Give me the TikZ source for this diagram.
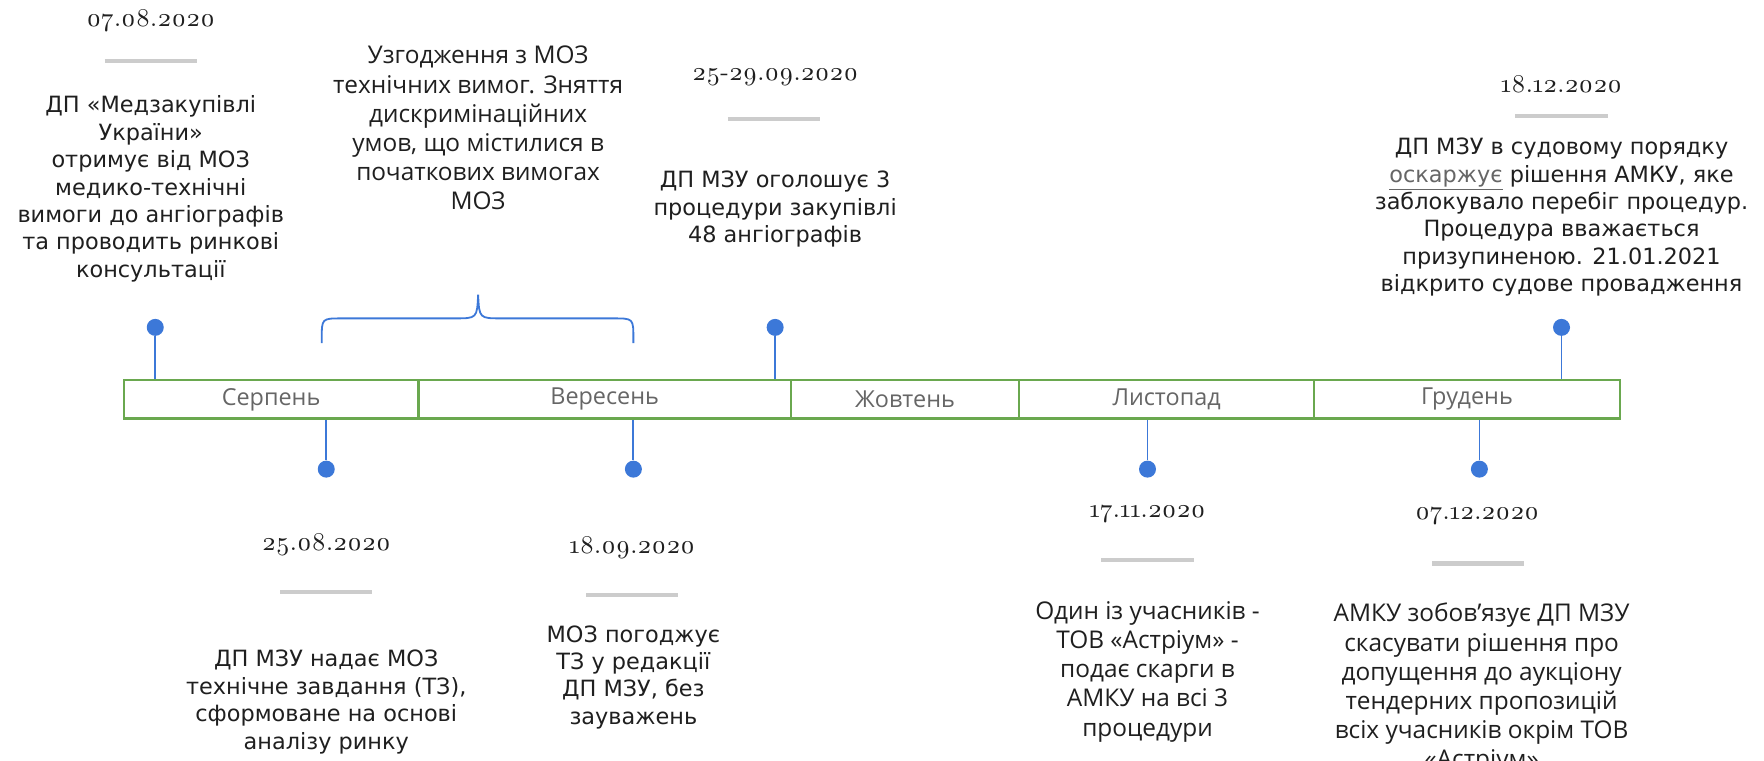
\documentclass[tikz,border=0pt]{standalone}
\usepackage{fontspec}
\newfontfamily\descfont{DejaVu Sans}
\newfontfamily\narrowfont{Open Sans}
\newfontfamily\datefont{lmroman10-regular.otf}[Numbers=OldStyle]
\definecolor{pinblue}{HTML}{3C78D8}
\definecolor{bargreen}{HTML}{6AA84F}
\definecolor{monthgray}{HTML}{666666}
\definecolor{rulegray}{HTML}{CCCCCC}
\definecolor{inkdark}{HTML}{1F1F1F}
\tikzset{month/.style={draw=bargreen, line width=1.1pt, fill=white, minimum height=34*0.5625pt, inner sep=0pt, text=monthgray, font=\narrowfont\fontsize{11.7}{13}\selectfont}}
\tikzset{pin/.style={draw=pinblue, line width=0.9pt}}
\tikzset{dot/.style={circle, fill=pinblue, minimum size=8.5pt, inner sep=0pt}}
\tikzset{datetxt/.style={text=inkdark, font=\datefont\fontsize{12.8}{15}\selectfont}}
\tikzset{datebar/.style={draw=rulegray, line width=2.2pt}}
\tikzset{desc/.style={align=center, text=inkdark, font=\descfont\fontsize{11.2}{13.7}\selectfont}}
\tikzset{descn/.style={align=center, text=inkdark, font=\narrowfont\fontsize{12.2}{14.6}\selectfont}}

\begin{document}
\begin{tikzpicture}[x=0.5625pt,y=-0.5625pt]
        \useasboundingbox (0,0) rectangle (1568,676);
        % months
        \node [month, minimum width=262*0.5625pt] (serp) at (241,355) {Серпень};
        \node [month, minimum width=331*0.5625pt] (veres) at (537.5,355) {Вересень};
        \node [month, minimum width=203*0.5625pt] (zhovt) at (804.5,355) {Жовтень};
        \node [month, minimum width=262*0.5625pt] (lyst) at (1037,355) {Листопад};
        \node [month, minimum width=272*0.5625pt] (grud) at (1304,355) {Грудень};
        % pins above
        \node [dot] (d0708) at (138,291) {};
        \node [dot] (d2509) at (689,291) {};
        \node [dot] (d1812) at (1388,291) {};
        \draw [pin] (d0708) -- (d0708 |- serp.north);
        \draw [pin] (d2509) -- (d2509 |- veres.north);
        \draw [pin] (d1812) -- (d1812 |- grud.north);
        % pins below
        \node [dot] (d2508) at (290,417) {};
        \node [dot] (d1809) at (563,417) {};
        \node [dot] (d1711) at (1020,417) {};
        \node [dot] (d0712) at (1315,417) {};
        \draw [pin] (d2508 |- serp.south) -- (d2508);
        \draw [pin] (d1809 |- veres.south) -- (d1809);
        \draw [pin] (d1711 |- lyst.south) -- (d1711);
        \draw [pin] (d0712 |- grud.south) -- (d0712);
        % brace
        \draw [pin] (286,305) -- (286,301) .. controls (286,283) .. (304,283) -- (404,283)
            .. controls (424,283) .. (425,262) .. controls (426,283) .. (446,283) -- (545,283)
            .. controls (563,283) .. (563,301) -- (563,305);
        % dates
        \node [datetxt] (t0708) at (134,18) {07.08.2020};
        \node [datetxt] (t2509) at (689,69) {25-29.09.2020};
        \node [datetxt] (t1812) at (1388,75) {18.12.2020};
        \node [datetxt] (t2508) at (290,484) {25.08.2020};
        \node [datetxt] (t1809) at (562,487) {18.09.2020};
        \node [datetxt] (t1711) at (1020,457) {17.11.2020};
        \node [datetxt] (t0712) at (1313,459) {07.12.2020};
        \draw [datebar] (93,54) -- (175,54);
        \draw [datebar] (647,106) -- (729,106);
        \draw [datebar] (1347,103) -- (1429,103);
        \draw [datebar] (249,526) -- (331,526);
        \draw [datebar] (521,529) -- (603,529);
        \draw [datebar] (979,498) -- (1061,498);
        \draw [datebar] (1273,501) -- (1355,501);
        % texts
        \node [desc] (e0708) at (134,168) {ДП «Медзакупівлі\\України»\\отримує від МОЗ\\медико-технічні\\вимоги до ангіографів\\та проводить ринкові\\консультації};
        \node [descn] (eagree) at (425,114) {Узгодження з МОЗ\\технічних вимог. Зняття\\дискримінаційних\\умов, що містилися в\\початкових вимогах\\МОЗ};
        \node [desc] (e2509) at (689,186) {ДП МЗУ оголошує 3\\процедури закупівлі\\48 ангіографів};
        \node [desc] (e1812) at (1388,193) {ДП МЗУ в судовому порядку\\{\color{monthgray}\underline{оскаржує}} рішення АМКУ, яке\\заблокувало перебіг процедур.\\Процедура вважається\\призупиненою. 21.01.2021\\відкрито судове провадження};
        \node [desc] (e2508) at (290,624) {ДП МЗУ надає МОЗ\\технічне завдання (ТЗ),\\сформоване на основі\\аналізу ринку};
        \node [desc] (e1809) at (563,602) {МОЗ погоджує\\ТЗ у редакції\\ДП МЗУ, без\\зауважень};
        \node [descn] (e1711) at (1020,597) {Один із учасників -\\ТОВ «Астріум» -\\подає скарги в\\АМКУ на всі 3\\процедури};
        \node [descn] (e0712) at (1317,612) {АМКУ зобов’язує ДП МЗУ\\скасувати рішення про\\допущення до аукціону\\тендерних пропозицій\\всіх учасників окрім ТОВ\\«Астріум»};
    \end{tikzpicture}
\end{document}
